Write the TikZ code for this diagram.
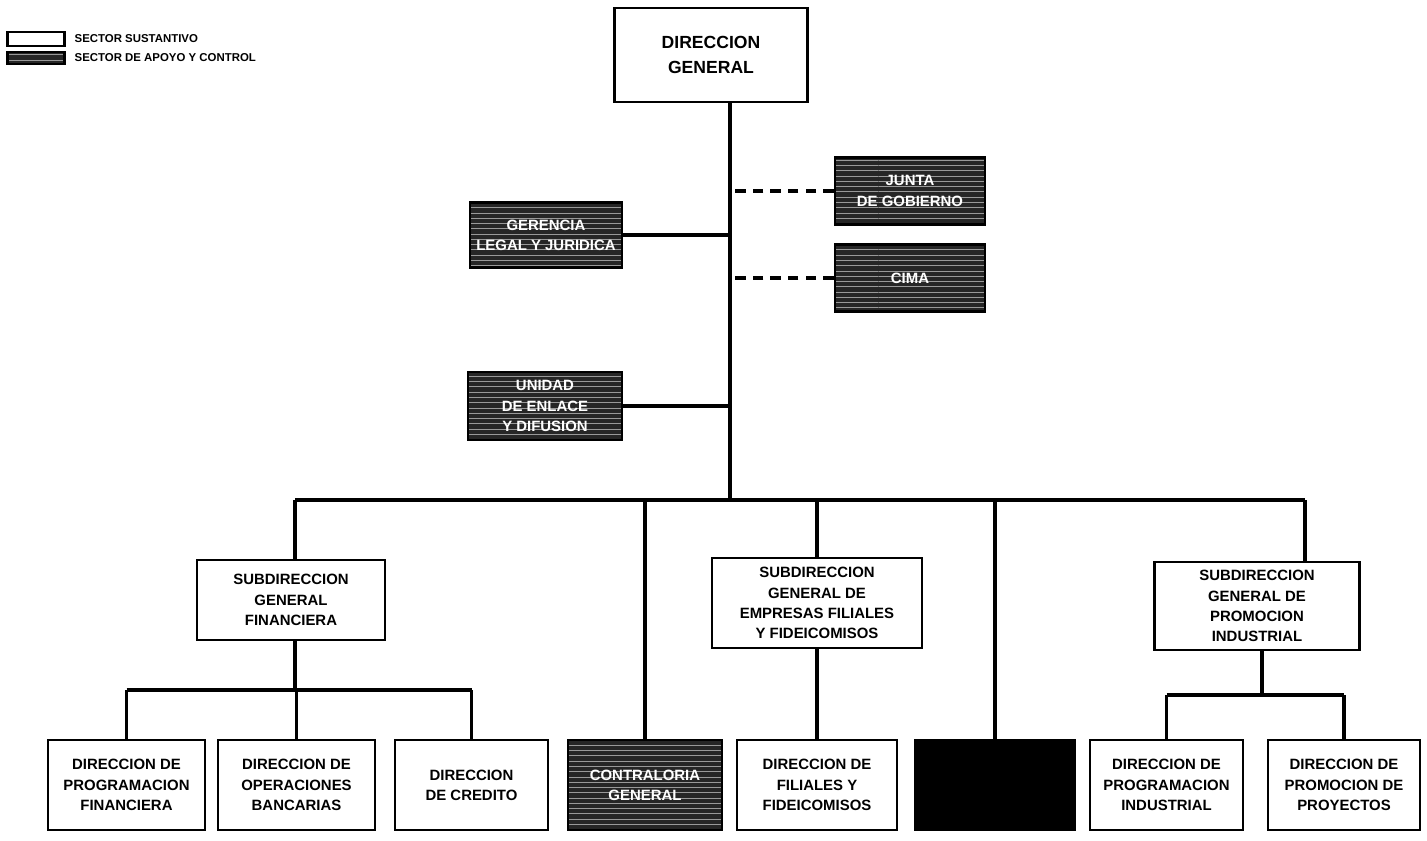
\documentclass[tikz,border=0pt]{standalone}
\usepackage{fontspec}
\setmainfont{Liberation Sans}
\usetikzlibrary{patterns, positioning}

\begin{document}
\begin{tikzpicture}[x=0.02cm, y=-0.02cm,
    box/.style={draw, line width=1.6pt, align=center, inner sep=2pt,
      font=\bfseries\fontsize{8.5}{11.5}\selectfont},
    sust/.style={box, fill=white},
    apoyo/.style={box, preaction={fill=black!85}, pattern=horizontal lines,
      pattern color=black!40, text=white},
    oscuro/.style={box, fill=black},
    bottombox/.style={minimum height=1.8cm},
    link/.style={line width=1.8pt},
    dash link/.style={link, dash pattern=on 6pt off 4pt},
    legend text/.style={font=\bfseries\fontsize{6.5}{7}\selectfont, inner sep=1pt}]

    \useasboundingbox (0,0) rectangle (1427,841);

    % leyenda
    \node[sust, line width=1.2pt, minimum width=1.14cm, minimum height=0.28cm, inner sep=0pt] (leyS) at (36,39) {};
    \node[apoyo, line width=1.2pt, minimum width=1.14cm, minimum height=0.24cm, inner sep=0pt] (leyA) at (36,58) {};
    \node[legend text, right=0.14cm of leyS] (leySt) {SECTOR SUSTANTIVO};
    \node[legend text, right=0.14cm of leyA] (leyAt) {SECTOR DE APOYO Y CONTROL};

    % direccion general y staff
    \node[sust, minimum width=3.86cm, minimum height=1.88cm,
      font=\bfseries\fontsize{10}{14}\selectfont] (dg) at (711,55) {DIRECCION\\GENERAL};
    \node[apoyo, minimum width=3.0cm, minimum height=1.34cm] (junta) at (910,191) {JUNTA\\DE GOBIERNO};
    \node[apoyo, minimum width=3.0cm, minimum height=1.34cm] (cima) at (910,278) {CIMA};
    \node[apoyo, minimum width=3.04cm, minimum height=1.3cm] (gerencia) at (546,235) {GERENCIA\\LEGAL Y JURIDICA};
    \node[apoyo, minimum width=3.08cm, minimum height=1.36cm] (unidad) at (545,406) {UNIDAD\\DE ENLACE\\Y DIFUSION};

    % subdirecciones
    \node[sust, minimum width=3.76cm, minimum height=1.6cm] (sgf) at (291,600) {SUBDIRECCION\\GENERAL\\FINANCIERA};
    \node[sust, minimum width=4.2cm, minimum height=1.8cm] (sge) at (817,603) {SUBDIRECCION\\GENERAL DE\\EMPRESAS FILIALES\\Y FIDEICOMISOS};
    \node[sust, minimum width=4.1cm, minimum height=1.76cm] (sgp) at (1257,606) {SUBDIRECCION\\GENERAL DE\\PROMOCION\\INDUSTRIAL};

    % direcciones
    \node[sust, bottombox, minimum width=3.14cm] (dpf) at (126.5,785) {DIRECCION DE\\PROGRAMACION\\FINANCIERA};
    \node[sust, bottombox, minimum width=3.14cm] (dob) at (296.5,785) {DIRECCION DE\\OPERACIONES\\BANCARIAS};
    \node[sust, bottombox, minimum width=3.06cm] (dcr) at (471.5,785) {DIRECCION\\DE CREDITO};
    \node[apoyo, bottombox, minimum width=3.08cm] (cont) at (645,785) {CONTRALORIA\\GENERAL};
    \node[sust, bottombox, minimum width=3.2cm] (dfi) at (817,785) {DIRECCION DE\\FILIALES Y\\FIDEICOMISOS};
    \node[oscuro, bottombox, minimum width=3.2cm] (negro) at (995,785) {};
    \node[sust, bottombox, minimum width=3.06cm] (dpi) at (1166.5,785) {DIRECCION DE\\PROGRAMACION\\INDUSTRIAL};
    \node[sust, bottombox, minimum width=3.04cm] (dpp) at (1344,785) {DIRECCION DE\\PROMOCION DE\\PROYECTOS};

    \coordinate (tronco) at (730,500);
    \coordinate (busL) at (295,500);
    \coordinate (busR) at (1305,500);
    \coordinate (fbus) at (295,690);
    \coordinate (pbus) at (1262,695);

    % tronco y staff
    \draw[link] (tronco |- dg.south) -- (tronco);
    \draw[link] (gerencia.east) -- (gerencia.east -| tronco);
    \draw[link] (unidad.east) -- (unidad.east -| tronco);
    \draw[dash link] (junta.west) -- (junta.west -| tronco);
    \draw[dash link] (cima.west) -- (cima.west -| tronco);

    % bus principal
    \draw[link] (busL) -- (busR);
    \draw[link] (busL) -- (busL |- sgf.north);
    \draw[link] (cont.north |- busL) -- (cont.north);
    \draw[link] (sge.north |- busL) -- (sge.north);
    \draw[link] (negro.north |- busL) -- (negro.north);
    \draw[link] (busR) -- (busR |- sgp.north);

    % financiera
    \draw[link] (fbus |- sgf.south) -- (fbus);
    \draw[link] (dpf.north |- fbus) -- (dcr.north |- fbus);
    \foreach \d in {dpf, dob, dcr}
        \draw[link] (\d.north |- fbus) -- (\d.north);

    % empresas filiales
    \draw[link] (sge.south) -- (dfi.north);

    % promocion industrial
    \draw[link] (pbus |- sgp.south) -- (pbus);
    \draw[link] (dpi.north |- pbus) -- (dpp.north |- pbus);
    \foreach \d in {dpi, dpp}
        \draw[link] (\d.north |- pbus) -- (\d.north);
\end{tikzpicture}
\end{document}
